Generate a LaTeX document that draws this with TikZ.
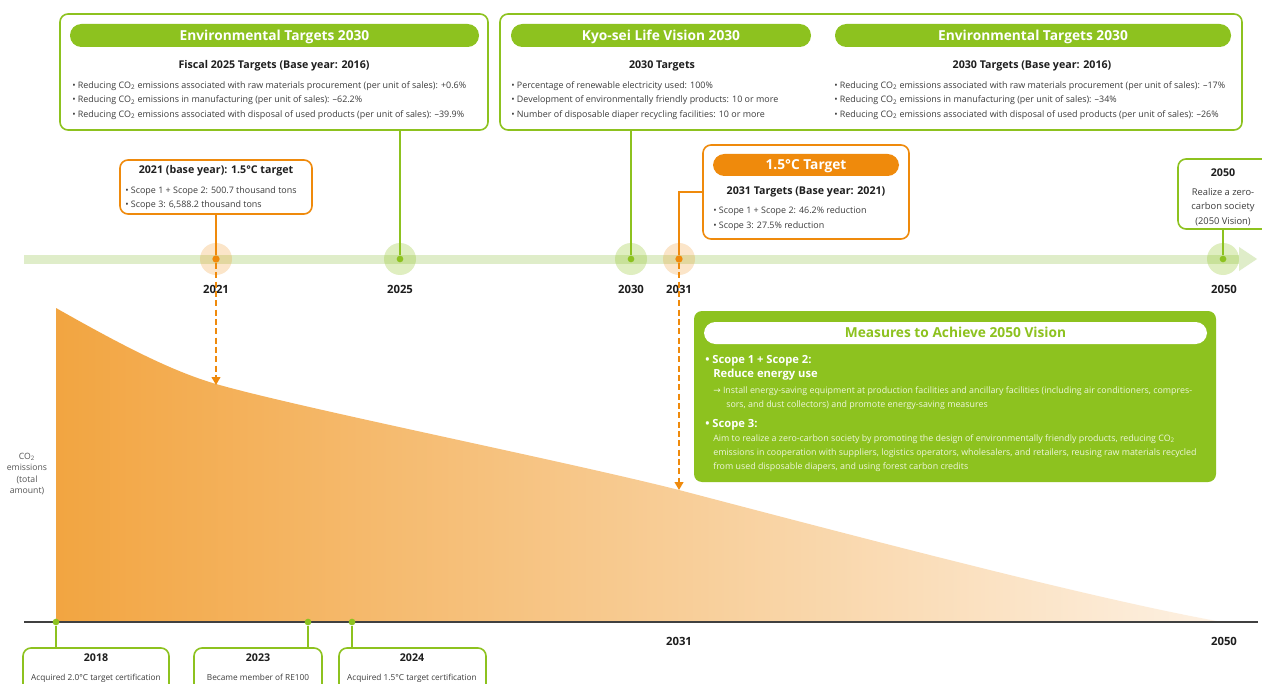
\documentclass[tikz,border=0pt]{standalone}
\usepackage{fontspec}
\setmainfont{Open Sans}
\newfontfamily\dejavu{DejaVu Sans}
\usetikzlibrary{arrows.meta,fit,calc}
\definecolor{grn}{HTML}{8DC21F}
\definecolor{band}{HTML}{DFEDC9}
\definecolor{orn}{HTML}{EF8A0C}
\definecolor{txtg}{HTML}{3C3C3C}
\definecolor{ttl}{HTML}{1E1E1E}
\definecolor{crvL}{HTML}{F2A541}
\definecolor{crvR}{HTML}{FDF1E3}
\definecolor{pale}{HTML}{EEF6DC}
\definecolor{axg}{HTML}{555555}
\tikzset{
 gbox/.style={draw=grn, line width=1.2pt, rounded corners=6pt, inner sep=0pt, fill=white},
 obox/.style={draw=orn, line width=1.2pt, rounded corners=6pt, inner sep=0pt, fill=white},
 gpill/.style={fill=grn, rounded corners=8.5pt, inner sep=0pt},
 opill/.style={fill=orn, rounded corners=8.5pt, inner sep=0pt},
 wpill/.style={fill=white, rounded corners=8.5pt, inner sep=0pt},
 mbox/.style={fill=grn, rounded corners=6pt, inner sep=0pt},
 htxt/.style={font=\bfseries\fontsize{10.3}{12}\selectfont, text=white, inner sep=0pt, text height=7.35pt, text depth=0pt},
 ttxt/.style={font=\bfseries\fontsize{8.0}{9.5}\selectfont, text=ttl, inner sep=0pt, text height=5.7pt, text depth=0pt},
 btxt/.style={font=\fontsize{6.7}{8}\selectfont, text=txtg, inner sep=0pt, text height=4.8pt, text depth=0pt, anchor=west},
 ctxt/.style={font=\fontsize{7.0}{8}\selectfont, text=txtg, inner sep=0pt, text height=5.0pt, text depth=0pt},
 dtxt/.style={font=\fontsize{6.2}{7.5}\selectfont, text=txtg, inner sep=0pt, text height=4.4pt, text depth=0pt},
 atxt/.style={font=\fontsize{6.5}{7.5}\selectfont, text=axg, inner sep=0pt, text height=4.6pt, text depth=0pt},
 ytxt/.style={font=\bfseries\fontsize{8.5}{10}\selectfont, text=ttl, inner sep=0pt, text height=6.1pt, text depth=0pt},
 mbold/.style={font=\bfseries\fontsize{8.4}{10}\selectfont, text=white, inner sep=0pt, text height=6.0pt, text depth=0pt, anchor=west},
 mtxt/.style={font=\fontsize{6.65}{8}\selectfont, text=pale, inner sep=0pt, text height=4.75pt, text depth=0pt, anchor=west},
 gline/.style={draw=grn, line width=1.1pt},
 oline/.style={draw=orn, line width=1.1pt},
 odash/.style={draw=orn, line width=1.5pt, dash pattern=on 4.5pt off 2.5pt, -{Triangle[length=6pt,width=6.5pt]}},
 gcirc/.style={circle, fill=grn, fill opacity=0.28, minimum size=24pt, inner sep=0pt},
 ocirc/.style={circle, fill=orn, fill opacity=0.22, minimum size=24pt, inner sep=0pt},
 gdot/.style={circle, fill=grn, minimum size=5pt, inner sep=0pt},
 odot/.style={circle, fill=orn, minimum size=5.5pt, inner sep=0pt},
}
\begin{document}
\begin{tikzpicture}[x=0.75pt,y=-0.75pt]
\useasboundingbox (0,0) rectangle (1262,684);
\clip (0,0) rectangle (1262,684);
\fill[white] (0,0) rectangle (1262,684);

% emission curve
\shade[left color=crvL, right color=crvR] (56,308) .. controls (130,350) and (175,372) .. (216,384) .. controls (300,408) and (560,460) .. (679,490) .. controls (900,548) and (1100,600) .. (1222,622) -- (56,622) -- cycle;
\coordinate (bl) at (24,622);
\coordinate (br) at (1258,622);
\draw[line width=0.8pt, black!75] (bl) -- (br);

% timeline band
\fill[band] (24,254.5) rectangle (1240,263.5);
\fill[band] (1239,247) -- (1257,259) -- (1239,271) -- cycle;

\node[ocirc] (c21) at (216,259) {};
\node[gcirc] (c25) at (400,259) {};
\node[gcirc] (c30) at (631,259) {};
\node[ocirc] (c31) at (679,259) {};
\node[gcirc] (c50) at (1223,259) {};
\node[odot] (d21) at (216,259) {};
\node[gdot] (d25) at (400,259) {};
\node[gdot] (d30) at (631,259) {};
\node[odot] (d31) at (679,259) {};
\node[gdot] (d50) at (1223,259) {};

\node[ytxt] (y21) at (216,289) {2021};
\node[ytxt] (y25) at (400,289) {2025};
\node[ytxt] (y30) at (631,289) {2030};
\node[ytxt] (y31) at (679,289) {2031};
\node[ytxt] (y50) at (1224,289) {2050};

% top left box
\node[gbox, fit={(60,14)(488,130)}] (envA) {};
\node[gpill, fit={(70,24)(479,47)}] (envAh) {};
\node[htxt] at (envAh.center) {Environmental Targets 2030};
\node[ttxt] (envAt) at (274,65) {Fiscal 2025 Targets (Base year: 2016)};
\node[btxt] (envA1) at (72,85) {• Reducing CO\textsubscript{2} emissions associated with raw materials procurement (per unit of sales): +0.6\%};
\node[btxt] (envA2) at (72,99.5) {• Reducing CO\textsubscript{2} emissions in manufacturing (per unit of sales): –62.2\%};
\node[btxt] (envA3) at (72,114) {• Reducing CO\textsubscript{2} emissions associated with disposal of used products (per unit of sales): –39.9\%};

% top right box
\node[gbox, fit={(500,14)(1242,130)}] (kyo) {};
\node[gpill, fit={(511,24)(811,47)}] (kyoh) {};
\node[htxt] at (kyoh.center) {Kyo-sei Life Vision 2030};
\node[gpill, fit={(835,24)(1231,47)}] (envBh) {};
\node[htxt] at (envBh.center) {Environmental Targets 2030};
\node[ttxt] (kyot) at (662,65) {2030 Targets};
\node[btxt] (kyo1) at (511,85) {• Percentage of renewable electricity used: 100\%};
\node[btxt] (kyo2) at (511,99.5) {• Development of environmentally friendly products: 10 or more};
\node[btxt] (kyo3) at (511,114) {• Number of disposable diaper recycling facilities: 10 or more};
\node[ttxt] (envBt) at (1032,65) {2030 Targets (Base year: 2016)};
\node[btxt] (envB1) at (834,85) {• Reducing CO\textsubscript{2} emissions associated with raw materials procurement (per unit of sales): –17\%};
\node[btxt] (envB2) at (834,99.5) {• Reducing CO\textsubscript{2} emissions in manufacturing (per unit of sales): –34\%};
\node[btxt] (envB3) at (834,114) {• Reducing CO\textsubscript{2} emissions associated with disposal of used products (per unit of sales): –26\%};

\draw[gline] (envA.south -| d25) -- (d25);
\draw[gline] (kyo.south -| d30) -- (d30);

% 2021 box
\node[obox, fit={(120,160)(312,214)}] (o21) {};
\node[ttxt] (o21t) at (216,170) {2021 (base year): 1.5°C target};
\node[btxt] (o211) at (125,190) {• Scope 1 + Scope 2: 500.7 thousand tons};
\node[btxt] (o212) at (125,204) {• Scope 3: 6,588.2 thousand tons};
\draw[oline] (o21.south -| d21) -- (d21);

% 1.5 C target box
\node[obox, fit={(703,145)(909,239)}] (o31) {};
\node[opill, fit={(713,154)(899,176)}] (o31h) {};
\node[htxt] at (o31h.center) {1.5°C Target};
\node[ttxt] (o31t) at (806,191) {2031 Targets (Base year: 2021)};
\node[btxt] (o311) at (713,210) {• Scope 1 + Scope 2: 46.2\% reduction};
\node[btxt] (o312) at (713,225) {• Scope 3: 27.5\% reduction};
\draw[oline] (o31.west) -| (d31);

% 2050 box
\node[gbox, fit={(1178,159)(1280,229)}] (g50) {};
\node[ttxt] (g50t) at (1223,173) {2050};
\node[ctxt] (g501) at (1223,192) {Realize a zero-};
\node[ctxt] (g502) at (1223,206.5) {carbon society};
\node[ctxt] (g503) at (1223,221) {(2050 Vision)};
\draw[gline] (g50.south -| d50) -- (d50);

% dashed arrows
\coordinate (a21) at (216,385);
\coordinate (a31) at (679,490);
\draw[odash] (d21.south) -- (a21);
\draw[odash] (d31.south) -- (a31);

% measures box
\node[mbox, fit={(694,311)(1216,482)}] (meas) {};
\node[wpill, fit={(704,322)(1207,344)}] (measH) {};
\node[htxt, text=grn] at (measH.center) {Measures to Achieve 2050 Vision};
\node[mbold] (m1) at (705,359) {• Scope 1 + Scope 2:};
\node[mbold] (m2) at (713,373) {Reduce energy use};
\node[mtxt] (m3) at (713,390) {{\dejavu →} Install energy-saving equipment at production facilities and ancillary facilities (including air conditioners, compres-};
\node[mtxt] (m4) at (726,404) {sors, and dust collectors) and promote energy-saving measures};
\node[mbold] (m5) at (705,423) {• Scope 3:};
\node[mtxt] (m6) at (713,438) {Aim to realize a zero-carbon society by promoting the design of environmentally friendly products, reducing CO\textsubscript{2}};
\node[mtxt] (m7) at (713,452) {emissions in cooperation with suppliers, logistics operators, wholesalers, and retailers, reusing raw materials recycled};
\node[mtxt] (m8) at (713,466) {from used disposable diapers, and using forest carbon credits};

% axis label
\node[atxt] (co1) at (27,456) {CO\textsubscript{2}};
\node[atxt] (co2) at (27,467.5) {emissions};
\node[atxt] (co3) at (27,479) {(total};
\node[atxt] (co4) at (27,490.5) {amount)};

% bottom
\node[ytxt] (b31) at (679,641) {2031};
\node[ytxt] (b50) at (1224,641) {2050};
\node[gdot] (bd1) at (56,622) {};
\node[gdot] (bd2) at (308,622) {};
\node[gdot] (bd3) at (352,622) {};
\node[gbox, fit={(23,648)(169,700)}] (bb1) {};
\node[gbox, fit={(194,648)(322,700)}] (bb2) {};
\node[gbox, fit={(339,648)(486,700)}] (bb3) {};
\draw[gline] (bd1) -- (bb1.north -| bd1);
\draw[gline] (bd2) -- (bb2.north -| bd2);
\draw[gline] (bd3) -- (bb3.north -| bd3);
\node[ttxt] (bb1t) at (96,658) {2018};
\node[dtxt] (bb1d) at (96,678) {Acquired 2.0°C target certification};
\node[ttxt] (bb2t) at (258,658) {2023};
\node[dtxt] (bb2d) at (258,678) {Became member of RE100};
\node[ttxt] (bb3t) at (412,658) {2024};
\node[dtxt] (bb3d) at (412,678) {Acquired 1.5°C target certification};
\end{tikzpicture}
\end{document}
